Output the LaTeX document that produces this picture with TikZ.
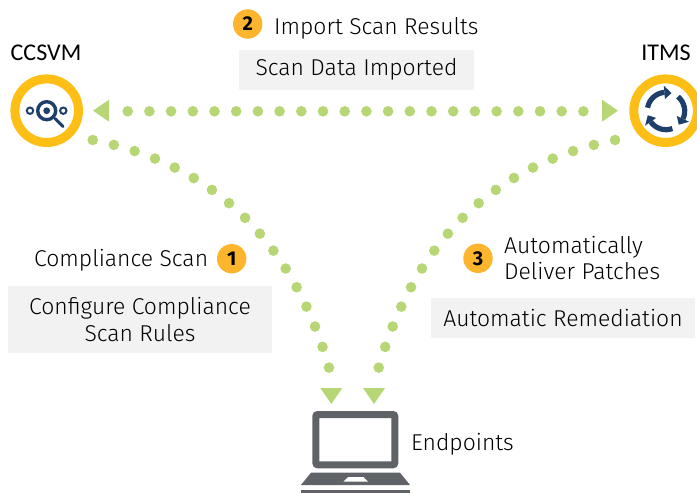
\documentclass[tikz,border=0pt]{standalone}
\usepackage{fontspec}
\setmainfont{Fira Sans Light}
\newfontfamily\titlefont{Carlito}
\newfontfamily\badgefont{Fira Sans Bold}
\definecolor{ringgold}{HTML}{FDBE16}
\definecolor{badgegold}{HTML}{FDB52D}
\definecolor{dotgreen}{HTML}{B7D675}
\definecolor{iconblue}{HTML}{1F3F6B}
\definecolor{lapgray}{HTML}{5F6267}
\definecolor{boxgray}{HTML}{F2F2F2}
\tikzset{
  ringnode/.style={circle, draw=ringgold, line width=9pt, fill=white, minimum size=63.6pt, inner sep=0pt},
  badge/.style={circle, fill=badgegold, minimum size=29.4pt, inner sep=0pt, font=\badgefont\fontsize{20}{20}\selectfont},
  label/.style={inner sep=0pt, text=black, font=\fontsize{22.9}{26}\selectfont},
  title/.style={inner sep=0pt, anchor=base, font=\titlefont\fontsize{24}{24}\selectfont},
  graybox/.style={fill=boxgray, inner sep=0pt, align=center, text=black, font=\fontsize{22.9}{26.6}\selectfont},
  dotline/.style={draw=dotgreen, line width=10.6pt, line cap=round, dash pattern=on 0pt off 21.7pt},
  tipmark/.style={fill=dotgreen},
}
\begin{document}
\begin{tikzpicture}[x=1pt,y=-1pt]
  \useasboundingbox (0,0) rectangle (697,493);
  \clip (0,0) rectangle (697,493);

  % Rings
  \node[ringnode] (ccsvm) at (46.7,110.7) {};
  \node[ringnode] (itms) at (665.6,110.7) {};
  \node[title] (ccsvmlabel) at (46,60) {CCSVM};
  \node[title] (itmslabel) at (666,60) {ITMS};

  % Magnifier icon
  \draw[iconblue, line width=3.4pt] (ccsvm) circle (9);
  \fill[iconblue] (ccsvm) circle (3.4);
  \draw[iconblue, line width=2pt] (30,110.7) circle (3.2);
  \draw[iconblue, line width=2pt] (63.3,110.7) circle (3.2);
  \draw[iconblue, line width=3pt, line cap=round] (55,118.5) -- (63,126.5);

  % Cycle icon
  \foreach \ang in {0,-120,-240} {
    \begin{scope}[shift={(666,111)}, rotate=\ang, y=1pt]
      \draw[iconblue, line width=5.2pt] (170:18.7) arc (170:95:18.7);
      \fill[iconblue] (95:25.5) -- (95:12) -- (73:18.7) -- cycle;
    \end{scope}
  }

  % Endpoints laptop
  \draw[lapgray, line width=7pt, rounded corners=2pt] (315.8,414.5) rectangle (394.8,464.8);
  \fill[lapgray] (301,485) -- (311,472.7) -- (400,472.7) -- (410,485) -- cycle;
  \fill[white] (343.3,481.7) -- (348.3,477) -- (363.3,477) -- (368,481.7) -- cycle;
  \fill[lapgray] (301,490) rectangle (410,493);
  \node[label, anchor=base west] (endpoints) at (411,450) {Endpoints};

  % Dotted paths
  \coordinate (leftstart) at (127.7,111.3);
  \coordinate (rightstart) at (583.4,111.3);
  \coordinate (scanstart) at (92.7,140);
  \coordinate (scanend) at (329,367.7);
  \coordinate (patchstart) at (615,140);
  \coordinate (patchend) at (378.7,367.7);
  \draw[dotline] (leftstart) -- (rightstart);
  \draw[dotline] (scanstart) .. controls (203,162) and (289.7,230.3) .. (scanend);
  \draw[dotline] (patchstart) .. controls (504.7,162) and (418,230.3) .. (patchend);

  % Triangles
  \fill[tipmark] (93,110.7) -- ++(16,-11) -- ++(0,22) -- cycle;
  \fill[tipmark] (618,110.7) -- ++(-16,-11) -- ++(0,22) -- cycle;
  \fill[tipmark] (331.3,404) -- ++(-11,-16) -- ++(22,0) -- cycle;
  \fill[tipmark] (374,404) -- ++(-11,-16) -- ++(22,0) -- cycle;

  % Step 2
  \node[badge] (two) at (247.7,24) {2};
  \node[label, anchor=base west] (importlabel) at (274,34) {Import Scan Results};
  \node[graybox, minimum width=235pt, minimum height=39.7pt] (importbox) at (356.5,69.8) {Scan Data Imported};

  % Step 1
  \node[badge] (one) at (231.7,258.7) {1};
  \node[label, anchor=base west] (scanlabel) at (34,266) {Compliance Scan};
  \node[graybox, minimum width=264pt, minimum height=66.7pt] (scanbox) at (140,319.3) {Configure Compliance\\Scan Rules};

  % Step 3
  \node[badge] (three) at (478,258.3) {3};
  \node[label, anchor=west, align=left] (patchlabel) at (504,258.5) {Automatically\\Deliver Patches};
  \node[graybox, minimum width=264pt, minimum height=39.7pt] (patchbox) at (563,317.8) {Automatic Remediation};
\end{tikzpicture}
\end{document}
